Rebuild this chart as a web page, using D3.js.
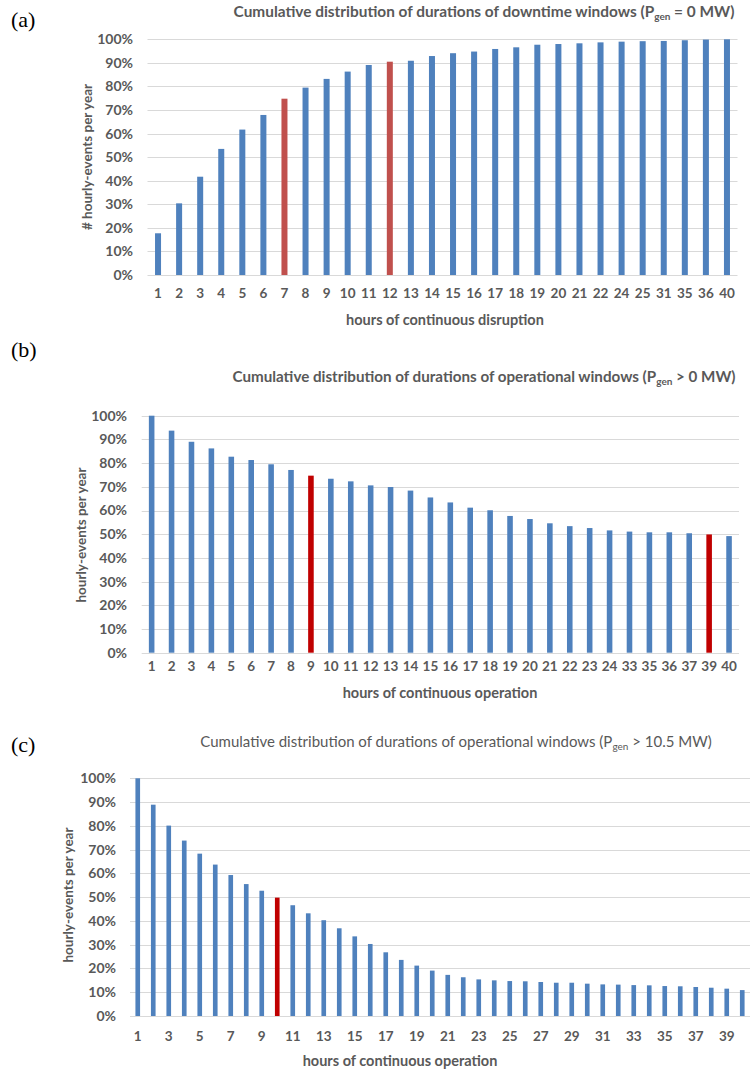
<!DOCTYPE html>
<html>
<head>
<meta charset="utf-8">
<script src="https://cdn.jsdelivr.net/npm/d3@7"></script>
<style>
  body { margin: 0; background: #fff; }
  svg text { font-family: Lato, "Open Sans", sans-serif; fill: #595959; }
  .tick text { font-weight: bold; }
  .y-axis .tick text { font-size: 14px; }
  .x-axis .tick text { font-size: 13.5px; }
  .grid line { stroke: #d9d9d9; stroke-width: 1; }
  .panel-letter { font-family: "Liberation Serif", "DejaVu Serif", serif; fill: #000; font-size: 22px; }
</style>
</head>
<body>
<div id="chart"></div>
<script>
// (a) downtime windows, P_gen = 0 MW
var catsA = ["1","2","3","4","5","6","7","8","9","10","11","12","13","14","15","16","17","18","19","20","21","22","24","25","31","35","36","40"];
var valsA = [17.7,30.4,41.7,53.5,61.7,67.9,74.8,79.5,83.2,86.3,89.1,90.5,90.9,92.9,94.1,94.8,95.9,96.6,97.7,98.0,98.3,98.7,99.0,99.2,99.3,99.6,99.9,100];
var redA = ["7","12"];

// (b) operational windows, P_gen > 0 MW
var catsB = ["1","2","3","4","5","6","7","8","9","10","11","12","13","14","15","16","17","18","19","20","21","22","23","24","33","35","36","37","39","40"];
var valsB = [100,93.7,89.0,86.2,82.7,81.3,79.5,77.1,74.7,73.4,72.3,70.6,69.9,68.4,65.5,63.4,61.2,60.1,57.7,56.4,54.6,53.4,52.6,51.6,51.1,50.8,50.8,50.4,49.9,49.2];
var redB = ["9","39"];

// (c) operational windows, P_gen > 10.5 MW
var catsC = ["1","2","3","4","5","6","7","8","9","10","11","12","13","14","15","16","17","18","19","20","21","22","23","24","25","26","27","28","29","30","31","32","33","34","35","36","37","38","39","40"];
var valsC = [100,88.9,80.1,73.8,68.3,63.7,59.3,55.5,52.7,49.8,46.6,43.2,40.3,36.9,33.5,30.3,26.8,23.6,21.2,19.1,17.3,16.3,15.4,15.0,14.7,14.6,14.3,14.0,14.0,13.6,13.3,13.2,13.0,12.9,12.6,12.5,12.2,11.9,11.5,10.9];
var redC = ["10"];
var ticksC = ["1","3","5","7","9","11","13","15","17","19","21","23","25","27","29","31","33","35","37","39"];

var yTicks = [0,10,20,30,40,50,60,70,80,90,100];

var svg = d3.select("#chart").append("svg")
    .attr("width", 750)
    .attr("height", 1069);

function drawPanel(p) {
  var x = d3.scaleBand().domain(p.cats).range([p.left, p.right])
      .paddingInner(p.pad).paddingOuter(p.pad / 2);
  var y = d3.scaleLinear().domain([0, 100]).range([p.bottom, p.top]);

  var g = svg.append("g");

  // gridlines
  g.append("g").attr("class", "grid")
    .selectAll("line").data(yTicks).enter().append("line")
      .attr("x1", p.left).attr("x2", p.right)
      .attr("y1", function(d) { return Math.round(y(d)) + 0.5; })
      .attr("y2", function(d) { return Math.round(y(d)) + 0.5; });

  // bars
  g.append("g").selectAll("rect").data(p.vals).enter().append("rect")
      .attr("x", function(d, i) { return x(p.cats[i]); })
      .attr("width", x.bandwidth())
      .attr("y", function(d) { return y(d); })
      .attr("height", function(d) { return p.bottom - y(d); })
      .attr("fill", function(d, i) { return p.red.indexOf(p.cats[i]) >= 0 ? p.redColor : "#4f81bd"; });

  // y axis
  var yAxis = d3.axisLeft(y).tickValues(yTicks).tickSize(0).tickPadding(0)
      .tickFormat(function(d) { return d + "%"; });
  g.append("g").attr("class", "y-axis")
    .attr("transform", "translate(" + p.yLabelX + ",0)").call(yAxis)
    .call(function(s) { s.select(".domain").remove(); });

  // x axis
  var xAxis = d3.axisBottom(x).tickSize(0).tickPadding(0);
  if (p.tickVals) xAxis.tickValues(p.tickVals);
  g.append("g").attr("class", "x-axis")
    .attr("transform", "translate(0," + p.xLabelY + ")").call(xAxis)
    .call(function(s) { s.select(".domain").remove(); });

  // axis titles
  g.append("text")
    .attr("transform", "translate(" + p.yTitleX + "," + p.yTitleY + ") rotate(-90)")
    .attr("text-anchor", "middle")
    .style("font-size", "13.5px").style("font-weight", "bold")
    .text(p.yTitle);

  g.append("text")
    .attr("x", p.xTitleX).attr("y", p.xTitleY)
    .attr("text-anchor", "middle")
    .style("font-size", "14.5px").style("font-weight", "bold")
    .text(p.xTitle);

  // chart title with subscript
  var t = g.append("text")
    .attr("x", p.titleX).attr("y", p.titleY)
    .attr("text-anchor", "middle")
    .style("font-size", p.titleSize + "px").style("font-weight", p.titleWeight);
  t.append("tspan").text(p.title[0]);
  t.append("tspan").attr("dy", 3).style("font-size", "10px").text("gen");
  t.append("tspan").attr("dy", -3).text(p.title[1]);

  g.append("text").attr("class", "panel-letter")
    .attr("x", 11).attr("y", p.letterY).text(p.letter);
}

drawPanel({
  cats: catsA, vals: valsA, red: redA, redColor: "#c0504d",
  left: 147.5, right: 737.5, top: 39.3, bottom: 275, pad: 0.715,
  yLabelX: 133, xLabelY: 288,
  yTitle: "# hourly-events per year", yTitleX: 92, yTitleY: 157,
  xTitle: "hours of continuous disruption", xTitleX: 445, xTitleY: 325,
  title: ["Cumulative distribution of durations of downtime windows (P", " = 0 MW)"],
  titleX: 484, titleY: 17, titleSize: 15.4, titleWeight: "bold",
  letter: "(a)", letterY: 27
});

drawPanel({
  cats: catsB, vals: valsB, red: redB, redColor: "#c00000",
  left: 141.7, right: 739, top: 415.7, bottom: 652.7, pad: 0.72,
  yLabelX: 127, xLabelY: 661,
  yTitle: "hourly-events per year", yTitleX: 86, yTitleY: 535,
  xTitle: "hours of continuous operation", xTitleX: 440, xTitleY: 698,
  title: ["Cumulative distribution of durations of operational windows (P", " > 0 MW)"],
  titleX: 484, titleY: 382, titleSize: 15.2, titleWeight: "bold",
  letter: "(b)", letterY: 357
});

drawPanel({
  cats: catsC, vals: valsC, red: redC, redColor: "#c00000", tickVals: ticksC,
  left: 130, right: 750, top: 778.3, bottom: 1016, pad: 0.7,
  yLabelX: 116, xLabelY: 1031,
  yTitle: "hourly-events per year", yTitleX: 73, yTitleY: 895,
  xTitle: "hours of continuous operation", xTitleX: 400, xTitleY: 1066,
  title: ["Cumulative distribution of durations of operational windows (P", " > 10.5 MW)"],
  titleX: 456, titleY: 747, titleSize: 15, titleWeight: "normal",
  letter: "(c)", letterY: 752
});
</script>
</body>
</html>
